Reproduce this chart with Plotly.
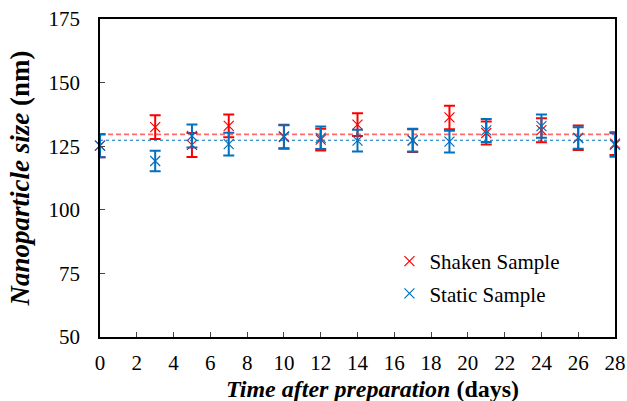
import plotly.graph_objects as go

days = [0, 3, 5, 7, 10, 12, 14, 17, 19, 21, 24, 26, 28]
shaken = [125.2, 132.5, 125.5, 133.0, 128.8, 127.6, 133.5, 127.2, 136.3, 130.2, 131.3, 128.3, 126.0]
shaken_err = [4.5, 4.7, 4.7, 4.5, 4.6, 4.3, 4.5, 4.5, 4.6, 4.5, 4.7, 4.8, 4.5]
static = [125.2, 119.2, 129.0, 125.8, 128.6, 128.3, 127.2, 127.4, 126.8, 131.2, 132.9, 128.2, 125.5]
static_err = [4.5, 4.0, 4.5, 4.5, 4.6, 4.4, 4.3, 4.5, 4.3, 4.5, 4.6, 4.2, 4.6]
x_ticks = list(range(0, 29, 2))
y_ticks = [50, 75, 100, 125, 150, 175]
x_title = "<b><i>Time after preparation</i> (days)</b>"
y_title = "<b><i>Nanoparticle size</i> (nm)</b>"

RED = "#FF0000"
BLUE = "#0070C0"
FONT = "Liberation Serif, serif"

shaken_mean = sum(shaken) / len(shaken)
static_mean = sum(static) / len(static)

fig = go.Figure()
fig.add_trace(go.Scatter(x=[days[0], days[-1]], y=[shaken_mean, shaken_mean], mode="lines",
                         line=dict(color="rgba(255,70,70,0.8)", width=1.8, dash="5px,3px"),
                         showlegend=False, hoverinfo="skip"))
fig.add_trace(go.Scatter(x=[days[0], days[-1]], y=[static_mean, static_mean], mode="lines",
                         line=dict(color=BLUE, width=1.2, dash="3px,3px"),
                         showlegend=False, hoverinfo="skip"))
fig.add_trace(go.Scatter(x=days, y=shaken, mode="markers", name="Shaken Sample",
                         legendgroup="a",
                         marker=dict(symbol="x-thin", size=10, line=dict(color=RED, width=1.2), color=RED),
                         error_y=dict(type="data", array=shaken_err, color=RED, thickness=2, width=5.5),
                         cliponaxis=False))
fig.add_trace(go.Scatter(x=days, y=static, mode="markers", name="Static Sample",
                         legendgroup="b",
                         marker=dict(symbol="x-thin", size=10, line=dict(color=BLUE, width=1.2), color=BLUE),
                         error_y=dict(type="data", array=static_err, color=BLUE, thickness=2, width=5.5),
                         cliponaxis=False))

fig.add_annotation(text=x_title, xref="paper", yref="paper", x=0.530, y=-0.1635,
                   xanchor="center", yanchor="middle", showarrow=False,
                   font=dict(size=24, family=FONT, color="black"))

fig.update_layout(
    width=627, height=401,
    margin=dict(l=100, r=12, t=19, b=64),
    paper_bgcolor="white", plot_bgcolor="white",
    font=dict(family=FONT, size=21, color="black"),
    legend=dict(x=0.562, y=0.302, xanchor="left", yanchor="top",
                bgcolor="rgba(0,0,0,0)", font=dict(size=21, family=FONT),
                tracegroupgap=2, traceorder="grouped", itemwidth=30),
    xaxis=dict(range=[0, 28], tickvals=x_ticks, ticks="inside", ticklen=5, tickwidth=1,
               showline=True, linecolor="black", linewidth=1.5, mirror=True,
               showgrid=False, zeroline=False, tickfont=dict(size=21, family=FONT),
               ticklabelstandoff=6, automargin=False),
    yaxis=dict(range=[50, 175], tickvals=y_ticks, ticks="inside", ticklen=5, tickwidth=1,
               showline=True, linecolor="black", linewidth=1.5, mirror=True,
               showgrid=False, zeroline=False, tickfont=dict(size=21, family=FONT),
               ticklabelstandoff=14, automargin=False,
               title=dict(text=y_title, font=dict(size=27, family=FONT), standoff=11)),
)

fig.write_html("out.html")
